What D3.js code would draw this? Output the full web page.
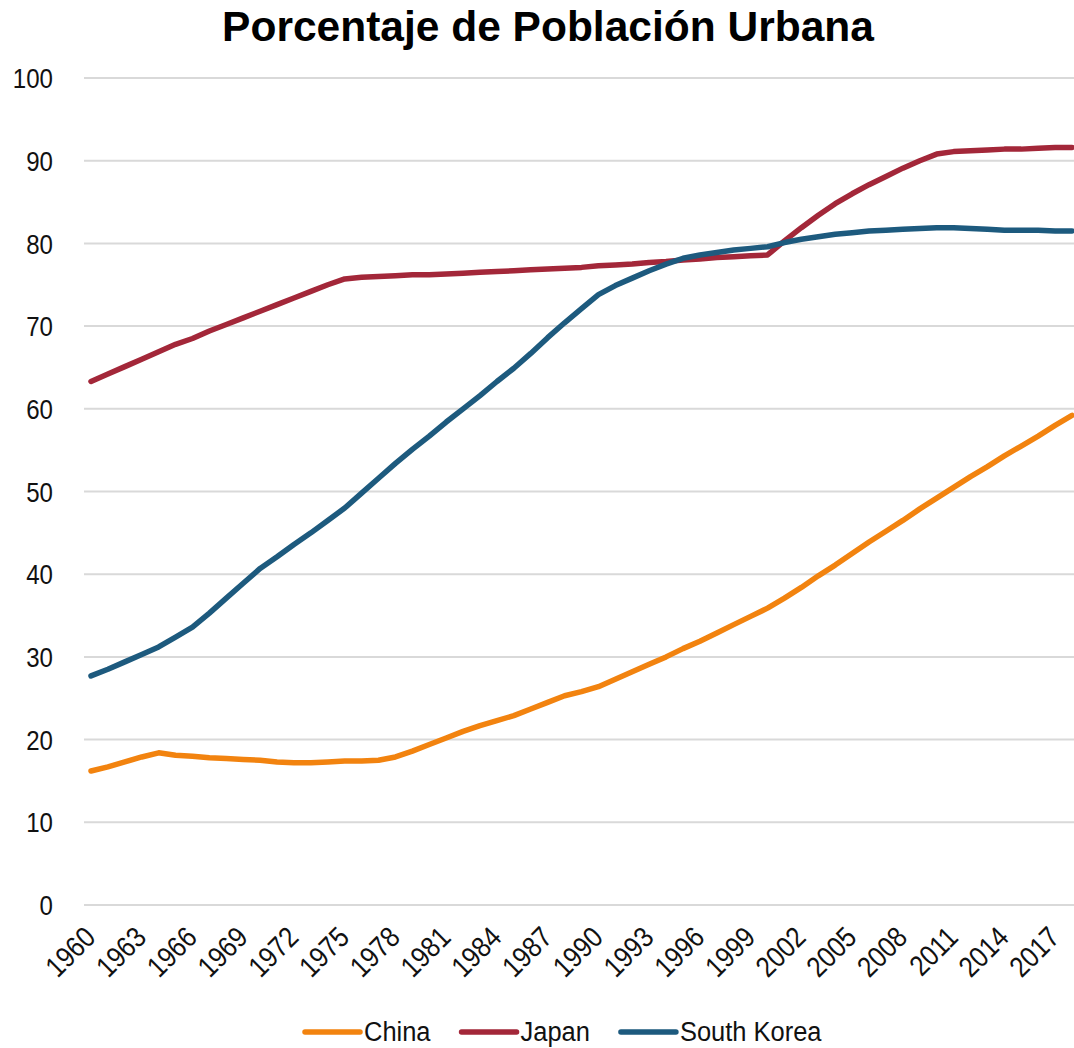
<!DOCTYPE html>
<html>
<head>
<meta charset="utf-8">
<script src="https://cdn.jsdelivr.net/npm/d3@7"></script>
<style>
  html, body { margin: 0; padding: 0; background: #fff; }
  svg { display: block; font-family: "Liberation Sans", Arial, sans-serif; }
</style>
</head>
<body>
<svg id="chart" width="1074" height="1048"></svg>
<script>
// Urban population, % of total, 1960-2018
const years = d3.range(1960, 2019);

const china = [
  16.2, 16.7, 17.3, 17.9, 18.4, 18.1, 18.0, 17.8, 17.7, 17.6,
  17.5, 17.3, 17.2, 17.2, 17.3, 17.4, 17.4, 17.5, 17.9, 18.6,
  19.4, 20.2, 21.0, 21.7, 22.3, 22.9, 23.7, 24.5, 25.3, 25.8,
  26.4, 27.3, 28.2, 29.1, 30.0, 31.0, 31.9, 32.9, 33.9, 34.9,
  35.9, 37.1, 38.4, 39.8, 41.1, 42.5, 43.9, 45.2, 46.5, 47.9,
  49.2, 50.5, 51.8, 53.0, 54.3, 55.5, 56.7, 58.0, 59.2
];

const japan = [
  63.3, 64.2, 65.1, 66.0, 66.9, 67.8, 68.5, 69.4, 70.2, 71.0,
  71.8, 72.6, 73.4, 74.2, 75.0, 75.7, 75.9, 76.0, 76.1, 76.2,
  76.2, 76.3, 76.4, 76.5, 76.6, 76.7, 76.8, 76.9, 77.0, 77.1,
  77.3, 77.4, 77.5, 77.7, 77.8, 78.0, 78.1, 78.3, 78.4, 78.5,
  78.6, 80.3, 81.9, 83.4, 84.8, 86.0, 87.1, 88.1, 89.1, 90.0,
  90.8, 91.1, 91.2, 91.3, 91.4, 91.4, 91.5, 91.6, 91.6
];

const southKorea = [
  27.7, 28.5, 29.4, 30.3, 31.2, 32.4, 33.6, 35.3, 37.1, 38.9,
  40.7, 42.1, 43.6, 45.0, 46.5, 48.0, 49.8, 51.6, 53.4, 55.1,
  56.7, 58.4, 60.0, 61.6, 63.3, 64.9, 66.7, 68.6, 70.4, 72.1,
  73.8, 74.9, 75.8, 76.7, 77.5, 78.2, 78.6, 78.9, 79.2, 79.4,
  79.6, 80.1, 80.5, 80.8, 81.1, 81.3, 81.5, 81.6, 81.7, 81.8,
  81.9, 81.9, 81.8, 81.7, 81.6, 81.6, 81.6, 81.5, 81.5
];

const seriesNames = ["China", "Japan", "South Korea"];
const seriesColors = ["#F2830F", "#A32739", "#1D5A7E"];
const yTicks = [0, 10, 20, 30, 40, 50, 60, 70, 80, 90, 100];
const xTickYears = d3.range(1960, 2019, 3);
const title = "Porcentaje de Población Urbana";

const series = [china, japan, southKorea].map((vals, i) => ({
  name: seriesNames[i],
  color: seriesColors[i],
  values: vals.map((v, j) => ({ year: years[j], value: v }))
}));

const svg = d3.select("#chart");

const x = d3.scaleLinear().domain([1960, 2018]).range([91, 1072]);
const y = d3.scaleLinear().domain([0, 100]).range([905, 78]);

// Title
svg.append("text")
  .attr("x", 548)
  .attr("y", 41)
  .attr("text-anchor", "middle")
  .attr("font-size", 42.5)
  .attr("font-weight", "bold")
  .attr("fill", "#000")
  .text(title);

// Horizontal gridlines
svg.append("g")
  .selectAll("line")
  .data(yTicks)
  .join("line")
  .attr("x1", 84)
  .attr("x2", 1074)
  .attr("y1", d => y(d))
  .attr("y2", d => y(d))
  .attr("stroke", "#D9D9D9")
  .attr("stroke-width", 2);

// Y axis labels (axis line hidden)
const yAxis = svg.append("g")
  .attr("transform", "translate(53,0)")
  .call(d3.axisLeft(y).tickValues(yTicks).tickSize(0).tickPadding(0));
yAxis.select(".domain").remove();
yAxis.selectAll("text")
  .attr("x", 0)
  .attr("dy", null)
  .attr("dominant-baseline", "central")
  .attr("font-size", 28)
  .attr("font-family", "Liberation Sans, Arial, sans-serif")
  .attr("fill", "#111")
  .attr("transform", d => `translate(0,${y(d)}) scale(0.86,1) translate(0,${-y(d)})`);

// X axis labels, rotated
const xAxis = svg.append("g")
  .attr("transform", "translate(0,932)")
  .call(d3.axisBottom(x).tickValues(xTickYears).tickFormat(d3.format("d")).tickSize(0).tickPadding(0));
xAxis.select(".domain").remove();
xAxis.selectAll(".tick")
  .attr("transform", d => `translate(${x(d) - 1},0)`);
xAxis.selectAll("text")
  .attr("y", 0)
  .attr("dy", null)
  .attr("text-anchor", "end")
  .attr("dominant-baseline", "central")
  .attr("font-size", 29)
  .attr("font-family", "Liberation Sans, Arial, sans-serif")
  .attr("fill", "#111")
  .attr("transform", "rotate(-45) scale(0.87,1)");

// Series lines
const line = d3.line()
  .x(d => x(d.year))
  .y(d => y(d.value));

svg.append("g")
  .selectAll("path")
  .data(series)
  .join("path")
  .attr("d", d => line(d.values))
  .attr("fill", "none")
  .attr("stroke", d => d.color)
  .attr("stroke-width", 5.5)
  .attr("stroke-linejoin", "round")
  .attr("stroke-linecap", "round");

// Legend
const legend = svg.append("g").attr("transform", "translate(0,1032)");
let lx = 305;
series.forEach(s => {
  legend.append("line")
    .attr("x1", lx).attr("x2", lx + 55)
    .attr("y1", 0).attr("y2", 0)
    .attr("stroke", s.color)
    .attr("stroke-width", 5.5)
    .attr("stroke-linecap", "round");
  const t = legend.append("text")
    .attr("transform", `translate(${lx + 59},0) scale(0.91,1)`)
    .attr("dominant-baseline", "central")
    .attr("font-size", 28)
    .attr("fill", "#111")
    .text(s.name);
  const w = t.node().getComputedTextLength() * 0.91;
  lx += 59 + w + 31;
});
</script>
</body>
</html>
